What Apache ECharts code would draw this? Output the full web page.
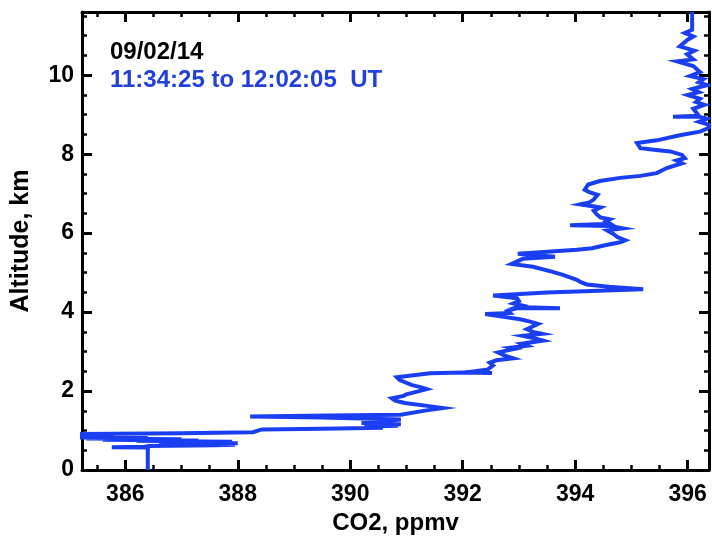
<!DOCTYPE html>
<html>
<head>
<meta charset="utf-8">
<title>CO2 profile</title>
<script src="https://cdn.jsdelivr.net/npm/echarts@6/dist/echarts.min.js"></script>
<style>
  html, body { margin: 0; padding: 0; background: #ffffff; }
  #chart { width: 712px; height: 540px; }
</style>
</head>
<body>
<div id="chart"></div>
<script>
// CO2 mixing ratio (ppmv) along the flight track, paired with altitude (km)
const co2 = [
  386.40, 386.40, 385.76, 386.35, 386.42, 387.60, 387.95, 386.80, 388.00, 386.60,
  387.90, 386.20, 387.30, 385.60, 387.00, 385.30, 386.40, 384.90, 385.80, 384.90,
  385.60, 384.90, 387.00, 388.27, 388.43, 389.50, 390.58, 390.25, 390.85, 390.30,
  390.90, 390.20, 390.80, 390.60, 390.90, 389.50, 388.22, 389.60, 390.90, 391.30,
  391.65, 391.40, 390.97, 390.80, 390.74, 390.95, 391.00, 391.36, 391.25, 391.10,
  390.88, 390.83, 391.42, 392.00, 392.52, 392.20, 392.45, 392.54, 392.48, 392.60,
  392.90, 392.75, 392.63, 392.93, 392.85, 393.14, 393.05, 393.43, 393.30, 393.07,
  393.41, 393.25, 393.14, 393.34, 393.20, 393.02, 392.40, 392.84, 392.80, 392.97,
  393.73, 392.97, 393.05, 392.90, 393.00, 392.97, 392.54, 393.50, 395.21, 394.60,
  394.21, 394.10, 394.03, 393.77, 393.60, 393.25, 392.87, 393.07, 393.64, 392.98,
  394.03, 394.30, 394.55, 394.80, 394.89, 394.75, 394.68, 394.57, 394.85, 394.62,
  393.91, 394.62, 394.55, 394.62, 394.45, 394.38, 394.33, 394.45, 394.09, 394.25,
  394.33, 394.40, 394.25, 394.17, 394.23, 394.44, 394.80, 395.16, 395.45, 395.63,
  395.90, 395.80, 395.95, 395.90, 395.69, 395.40, 395.16, 395.10, 395.45, 395.86,
  396.22, 396.35, 396.42, 396.20, 396.35, 396.20, 395.74, 396.20, 396.10, 396.30,
  396.15, 396.22, 396.00, 396.20, 396.08, 396.35, 396.20, 396.28, 396.04, 396.22,
  396.10, 395.81, 396.10, 395.99, 396.12, 395.86, 396.00, 396.10, 395.95, 396.08,
  396.08
];
const altitude = [
  0.00, 0.57, 0.58, 0.59, 0.61, 0.63, 0.645, 0.66, 0.68, 0.70,
  0.72, 0.74, 0.75, 0.77, 0.78, 0.80, 0.81, 0.83, 0.85, 0.87,
  0.89, 0.91, 0.93, 0.96, 1.03, 1.05, 1.07, 1.10, 1.12, 1.14,
  1.16, 1.19, 1.21, 1.24, 1.28, 1.33, 1.36, 1.38, 1.40, 1.50,
  1.57, 1.62, 1.70, 1.76, 1.82, 1.88, 1.92, 2.05, 2.10, 2.15,
  2.28, 2.35, 2.45, 2.47, 2.46, 2.50, 2.55, 2.65, 2.72, 2.78,
  2.83, 2.90, 2.98, 3.07, 3.10, 3.15, 3.20, 3.28, 3.33, 3.40,
  3.45, 3.50, 3.57, 3.70, 3.76, 3.82, 3.95, 3.98, 4.03, 4.10,
  4.10, 4.13, 4.17, 4.22, 4.28, 4.35, 4.42, 4.50, 4.58, 4.64,
  4.70, 4.76, 4.82, 4.95, 5.02, 5.15, 5.22, 5.35, 5.40, 5.48,
  5.58, 5.62, 5.70, 5.77, 5.82, 5.90, 5.98, 6.07, 6.12, 6.18,
  6.20, 6.24, 6.30, 6.35, 6.40, 6.48, 6.57, 6.65, 6.73, 6.78,
  6.85, 6.97, 7.04, 7.10, 7.23, 7.32, 7.40, 7.45, 7.52, 7.65,
  7.77, 7.84, 7.90, 7.98, 8.07, 8.11, 8.15, 8.28, 8.35, 8.48,
  8.57, 8.65, 8.73, 8.82, 8.90, 8.95, 8.95, 8.97, 9.15, 9.25,
  9.32, 9.40, 9.50, 9.57, 9.65, 9.75, 9.82, 9.90, 9.98, 10.08,
  10.23, 10.35, 10.40, 10.53, 10.62, 10.73, 10.90, 10.98, 11.07, 11.15,
  11.60
];

// axis ranges and tick positions
const xRange = [385.23, 396.38];
const yRange = [0, 11.6];
const xMajorTicks = [386, 388, 390, 392, 394, 396];
const xMinorTicks = [385.5, 386.5, 387, 387.5, 388.5, 389, 389.5, 390.5, 391, 391.5,
                     392.5, 393, 393.5, 394.5, 395, 395.5, 396.5];
const yMajorTicks = [0, 2, 4, 6, 8, 10];
const yMinorTicks = [0.5, 1, 1.5, 2.5, 3, 3.5, 4.5, 5, 5.5, 6.5, 7, 7.5, 8.5, 9, 9.5,
                     10.5, 11, 11.5];

const dateText = '09/02/14';
const timeText = '11:34:25 to 12:02:05  UT';

const FONT = '"Liberation Sans", Arial, Helvetica, sans-serif';
const LINE_BLUE = '#1a3ff2';
const TEXT_BLUE = '#2140dc';

const profile = co2.map((v, i) => [v, altitude[i]]);

function makeAxis(kind, position, ticks, major, withLine, withLabels) {
  const range = kind === 'x' ? xRange : yRange;
  return {
    type: 'value',
    position: position,
    min: range[0],
    max: range[1],
    splitLine: { show: false },
    axisLine: {
      show: withLine,
      onZero: false,
      lineStyle: { color: '#000', width: 3 }
    },
    axisTick: {
      show: true,
      inside: true,
      customValues: ticks,
      length: major ? 10 : 5,
      lineStyle: { color: '#000', width: major ? 3 : 2.5 }
    },
    axisLabel: withLabels ? {
      show: true,
      customValues: ticks,
      color: '#000',
      fontFamily: FONT,
      fontWeight: 'bold',
      fontSize: 23,
      margin: kind === 'x' ? 13 : 8
    } : { show: false }
  };
}

const xAxes = [
  makeAxis('x', 'bottom', xMajorTicks, true, true, true),
  makeAxis('x', 'bottom', xMinorTicks, false, false, false),
  makeAxis('x', 'top', xMajorTicks, true, true, false),
  makeAxis('x', 'top', xMinorTicks, false, false, false)
];
Object.assign(xAxes[0], {
  name: 'CO2, ppmv',
  nameLocation: 'middle',
  nameGap: 31,
  nameTextStyle: { color: '#000', fontFamily: FONT, fontWeight: 'bold', fontSize: 24 }
});

const yAxes = [
  makeAxis('y', 'left', yMajorTicks, true, true, true),
  makeAxis('y', 'left', yMinorTicks, false, false, false),
  makeAxis('y', 'right', yMajorTicks, true, true, false),
  makeAxis('y', 'right', yMinorTicks, false, false, false)
];
Object.assign(yAxes[0], {
  name: 'Altitude, km',
  nameLocation: 'middle',
  nameGap: 48,
  nameTextStyle: { color: '#000', fontFamily: FONT, fontWeight: 'bold', fontSize: 25 }
});

const chart = echarts.init(document.getElementById('chart'), null, { renderer: 'canvas' });
chart.setOption({
  animation: false,
  backgroundColor: '#ffffff',
  grid: { left: 82, right: 3, top: 12, bottom: 64, containLabel: false },
  xAxis: xAxes,
  yAxis: yAxes,
  graphic: [
    {
      type: 'text', left: 110, top: 40,
      style: { text: dateText, fill: '#000', font: 'bold 24px ' + FONT }
    },
    {
      type: 'text', left: 110, top: 68,
      style: { text: timeText, fill: TEXT_BLUE, font: 'bold 24px ' + FONT }
    }
  ],
  series: [{
    type: 'line',
    xAxisIndex: 0,
    yAxisIndex: 0,
    data: profile,
    showSymbol: false,
    clip: true,
    lineStyle: { color: LINE_BLUE, width: 4, join: 'miter' }
  }]
});
</script>
</body>
</html>
